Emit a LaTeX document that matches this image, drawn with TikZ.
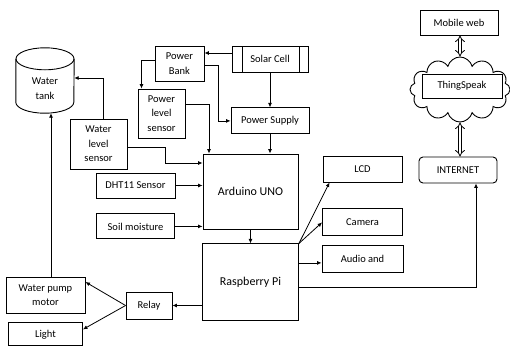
\documentclass[tikz,border=0pt]{standalone}
\usepackage{fontspec}
\setmainfont{Carlito}
\usetikzlibrary{arrows.meta, positioning, shapes.symbols}

\begin{document}
\begin{tikzpicture}[x=1pt, y=-1pt,
    box/.style={draw, line width=0.9pt, fill=white, inner sep=1pt,
                align=center, font=\fontsize{10.5}{14.5}\selectfont},
    bigbox/.style={box, font=\fontsize{12}{14}\selectfont},
    solarbox/.style={box, path picture={
        \draw[line width=0.9pt] ([xshift=10pt]path picture bounding box.north west)
              -- ([xshift=10pt]path picture bounding box.south west);
        \draw[line width=0.9pt] ([xshift=-9pt]path picture bounding box.north east)
              -- ([xshift=-9pt]path picture bounding box.south east);}},
    tankline/.style={line width=0.9pt},
    arr/.style={-{Latex[length=4.5pt, width=4pt]}, line width=0.8pt},
    dbl/.style={{Implies}-{Implies}, double, double distance=2.6pt, line width=0.8pt}
  ]
  \useasboundingbox (0,0) rectangle (510,345);

  % power part
  \node[solarbox, minimum width=76, minimum height=26] (solar) at (270,59) {Solar Cell};
  \node[box, minimum width=49, minimum height=35] (pbank) at (179.5,63.5) {Power\\Bank};
  \node[box, minimum width=78, minimum height=26, below=35pt of solar] (psupply) {Power Supply};
  \node[box, minimum width=47, minimum height=49] (plsensor) at (161.5,113.5) {Power\\level\\sensor};

  % controllers
  \node[bigbox, minimum width=95, minimum height=75] (arduino) at (250.5,191.5) {Arduino UNO};
  \node[bigbox, minimum width=96, minimum height=77, below=14pt of arduino] (rpi) {Raspberry Pi};

  % water tank
  \node[minimum width=58, minimum height=65, inner sep=0pt] (tank) at (45,80.5) {};
  \draw[tankline] ([yshift=-11pt]tank.north west) -- ([yshift=11pt]tank.south west)
        arc[start angle=180, end angle=0, x radius=29, y radius=11]
        -- ([yshift=-11pt]tank.north east);
  \draw[tankline] ([yshift=-11pt]tank.north) ellipse [x radius=29, y radius=11];
  \node[align=center, font=\fontsize{10.5}{14.5}\selectfont] (tanktext)
        at ([yshift=-8pt]tank.center) {Water\\tank};

  % sensors
  \node[box, minimum width=57, minimum height=50] (wls) at (98.5,144) {Water\\level\\sensor};
  \node[box, minimum width=79, minimum height=25] (dht) at (135.5,185.5) {DHT11 Sensor};
  \node[box, minimum width=78, minimum height=25, below=15pt of dht] (soil) {Soil moisture};

  % outputs
  \node[box, minimum width=79, minimum height=26] (lcd) at (362.5,169) {LCD};
  \node[box, minimum width=80, minimum height=27, below=26pt of lcd] (camera) {Camera};
  \node[box, minimum width=81, minimum height=27, below=9pt of camera] (audio) {Audio and};
  \node[box, minimum width=46, minimum height=27] (relay) at (149,305.5) {Relay};
  \node[box, minimum width=79, minimum height=36] (pump) at (45.5,295) {Water pump\\motor};
  \node[box, minimum width=74, minimum height=23, below=9pt of pump] (light) {Light};

  % cloud
  \node[cloud, draw, line width=0.9pt, cloud puffs=12, cloud ignores aspect,
        minimum width=100, minimum height=65, inner sep=0pt] (cloud) at (460,89.5) {};
  \node[box, minimum width=80, minimum height=24] (tspeak) at (462,86) {ThingSpeak};
  \node[box, minimum width=78, minimum height=25] (mobile) at (459,22.5) {Mobile web};
  \node[box, rounded corners=4pt, minimum width=78, minimum height=26] (internet) at (458,170) {INTERNET};

  % power connectors
  \draw[arr] ([yshift=6pt]solar.west) -- ([yshift=6pt]solar.west -| pbank.east);
  \draw[arr] (solar.south) -- (solar.south |- psupply.north);
  \draw[arr] ([yshift=3.5pt]pbank.west) -| ([xshift=-20pt]plsensor.north);
  \draw[arr] ([yshift=-1.5pt]pbank.east) -- ++(14,0) |- (psupply.west);
  \draw[arr] ([yshift=9.5pt]plsensor.east) -| ([xshift=-41.5pt]arduino.north);
  \draw[arr] (psupply.south) -- (psupply.south |- arduino.north);

  % sensor connectors
  \draw[arr] ([xshift=4.5pt]wls.north) |- ([yshift=2.5pt]tank.east);
  \draw[arr] ([yshift=-3pt]wls.east) -- ++(38,0) |- ([yshift=28.5pt]arduino.west);
  \draw[arr] (dht.east) -- (dht.east -| arduino.west);
  \draw[arr] (soil.east) -- (soil.east -| arduino.west);
  \draw[arr] (arduino.south) -- (arduino.south |- rpi.north);

  % output connectors
  \draw[arr] (rpi.north east) -- ([xshift=7pt]lcd.south west);
  \draw[arr] (rpi.north east) -- (camera.west);
  \draw[arr] ([yshift=19.5pt]rpi.east) -- ([yshift=19.5pt]rpi.east -| audio.west);
  \draw[arr] ([yshift=-4.5pt]rpi.east) -| ([xshift=18pt]internet.south);
  \draw[arr] (rpi.west |- relay.east) -- (relay.east);
  \draw[arr] (relay.west) -- ([yshift=13pt]pump.east);
  \draw[arr] (relay.west) -- ([yshift=5pt]light.east);
  \draw[arr] ([xshift=5.5pt]pump.north) -- ([xshift=5.5pt]pump.north |- tank.south);

  % cloud connectors
  \draw[dbl] ([xshift=1pt]mobile.south) -- ([xshift=1pt]mobile.south |- cloud.north);
  \draw[dbl] ([xshift=2pt]internet.north) -- ([xshift=2pt]internet.north |- cloud.south);
\end{tikzpicture}
\end{document}
